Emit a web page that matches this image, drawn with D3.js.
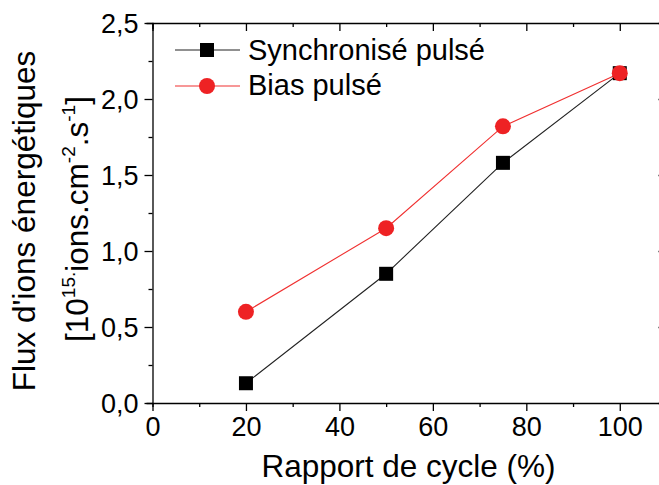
<!DOCTYPE html>
<html><head><meta charset="utf-8">
<script src="https://cdn.jsdelivr.net/npm/d3@7"></script>
<style>
html,body{margin:0;padding:0;background:#fff;}
text{font-family:"Liberation Sans",Arial,sans-serif;fill:#000;}
</style></head>
<body><svg id="c" width="659" height="485"></svg>
<script>
const cycle = [20, 50, 75, 100];
const synchronise = [0.13, 0.85, 1.58, 2.17];
const bias = [0.60, 1.15, 1.82, 2.17];
const xTicks = [0, 20, 40, 60, 80, 100];
const yTicks = [0, 0.5, 1.0, 1.5, 2.0, 2.5];
const seriesNames = ["Synchronisé pulsé", "Bias pulsé"];

const svg = d3.select("#c");
const L = 152.5, R = 666.5, T = 23, B = 403;
const x = d3.scaleLinear().domain([0, 110]).range([L, R]);
const y = d3.scaleLinear().domain([0, 2.5]).range([B, T]);
const fmtY = v => d3.format(".1f")(v).replace(".", ",");

const gx = svg.append("g").attr("transform", `translate(0,${B})`);
gx.call(d3.axisBottom(x).tickValues(d3.range(0, 111, 10)).tickSize(4).tickFormat(""));
gx.call(g => g.selectAll(".tick line").attr("y2", d => d % 20 === 0 ? 8 : 4));
const gxl = svg.append("g").attr("transform", `translate(0,${B})`);
gxl.call(d3.axisBottom(x).tickValues(xTicks).tickSize(0).tickPadding(33).tickFormat(d3.format("d")));
gxl.select(".domain").remove();
gxl.selectAll("text").attr("font-size", 27).attr("dy", 0).style("font-family", "Liberation Sans");

const gt = svg.append("g").attr("transform", `translate(0,${T})`);
gt.call(d3.axisBottom(x).tickValues(d3.range(0, 111, 10)).tickFormat(""));
gt.selectAll(".tick line").attr("y2", d => d % 20 === 0 ? 8 : 4);

const gy = svg.append("g").attr("transform", `translate(${L},0)`);
gy.call(d3.axisLeft(y).tickValues(d3.range(0, 2.51, 0.25)).tickFormat(""));
gy.selectAll(".tick line").attr("x2", (d, i) => i % 2 === 0 ? -8 : -4);
const gyl = svg.append("g").attr("transform", `translate(${L},0)`);
gyl.call(d3.axisLeft(y).tickValues(yTicks).tickSize(0).tickPadding(14).tickFormat(fmtY));
gyl.select(".domain").remove();
gyl.selectAll("text").attr("font-size", 27).attr("dy", "0.36em").style("font-family", "Liberation Sans");

const gr = svg.append("g").attr("transform", `translate(${R},0)`);
gr.call(d3.axisLeft(y).tickValues(d3.range(0, 2.51, 0.25)).tickFormat(""));
gr.selectAll(".tick line").attr("x2", (d, i) => i % 2 === 0 ? -8 : -4);

svg.selectAll(".domain").attr("stroke", "#000").attr("stroke-width", 1.3);
svg.selectAll(".tick line").attr("stroke", "#000").attr("stroke-width", 1.3);

const line = d3.line().x(d => x(d[0])).y(d => y(d[1]));
const sData = cycle.map((c, i) => [c, synchronise[i]]);
const bData = cycle.map((c, i) => [c, bias[i]]);

svg.append("path").attr("d", line(sData)).attr("fill", "none").attr("stroke", "#222").attr("stroke-width", 1.1);
svg.append("path").attr("d", line(bData)).attr("fill", "none").attr("stroke", "#f03030").attr("stroke-width", 1.1);

svg.selectAll(".sq").data(sData).enter().append("rect")
  .attr("x", d => x(d[0]) - 7).attr("y", d => y(d[1]) - 7).attr("width", 14).attr("height", 14).attr("fill", "#000");
svg.selectAll(".ci").data(bData).enter().append("circle")
  .attr("cx", d => x(d[0])).attr("cy", d => y(d[1])).attr("r", 8).attr("fill", "#ee2224");

// legend
const lg = svg.append("g");
lg.append("line").attr("x1", 175).attr("x2", 240).attr("y1", 50).attr("y2", 50).attr("stroke", "#222").attr("stroke-width", 1.1);
lg.append("rect").attr("x", 200).attr("y", 43).attr("width", 14).attr("height", 14).attr("fill", "#000");
lg.append("text").attr("x", 248).attr("y", 60).attr("font-size", 29).text(seriesNames[0]);
lg.append("line").attr("x1", 175).attr("x2", 240).attr("y1", 86).attr("y2", 86).attr("stroke", "#f03030").attr("stroke-width", 1.1);
lg.append("circle").attr("cx", 207).attr("cy", 86).attr("r", 8).attr("fill", "#ee2224");
lg.append("text").attr("x", 248).attr("y", 95).attr("font-size", 29).text(seriesNames[1]);

// axis titles
svg.append("text").attr("x", 408.5).attr("y", 477).attr("text-anchor", "middle").attr("font-size", 31.5).text("Rapport de cycle (%)");

const yt = svg.append("g").attr("transform", "rotate(-90)");
yt.append("text").attr("x", -221).attr("y", 35).attr("text-anchor", "middle").attr("font-size", 31.5).text("Flux d'ions énergétiques");
const t2 = yt.append("text").attr("x", -219).attr("y", 88).attr("text-anchor", "middle").attr("font-size", 31.5);
t2.append("tspan").text("[10");
t2.append("tspan").attr("font-size", 19).attr("dy", -13).text("15.");
t2.append("tspan").attr("dy", 13).text("ions.cm");
t2.append("tspan").attr("font-size", 19).attr("dy", -13).text("-2");
t2.append("tspan").attr("dy", 13).text(".s");
t2.append("tspan").attr("font-size", 19).attr("dy", -13).text("-1");
t2.append("tspan").attr("dy", 13).text("]");
</script></body></html>
